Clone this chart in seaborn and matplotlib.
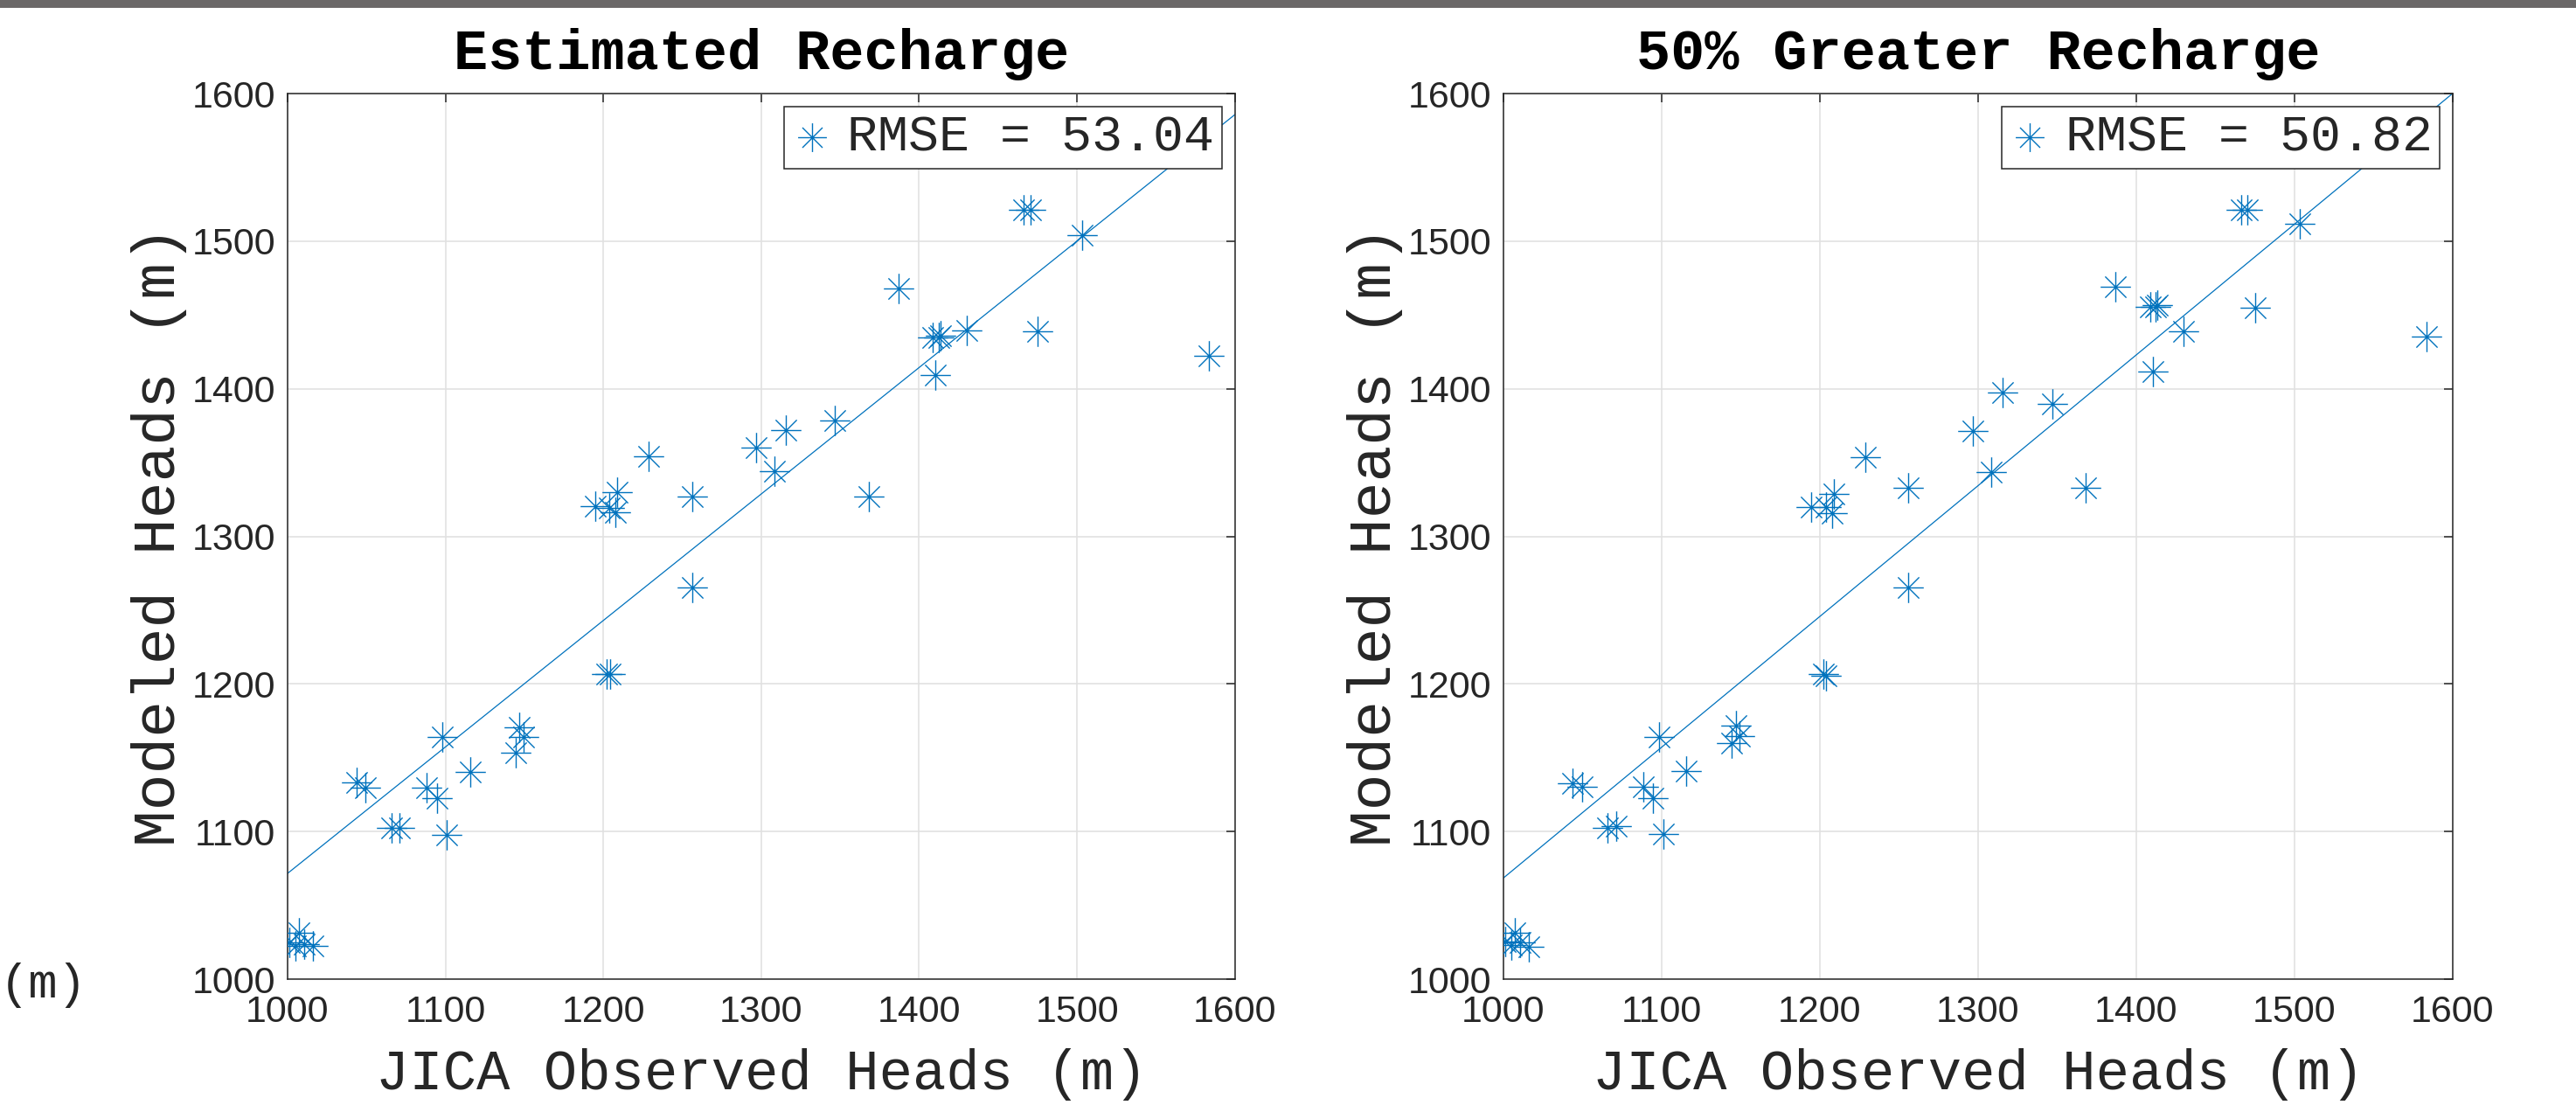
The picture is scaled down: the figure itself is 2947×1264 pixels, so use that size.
import matplotlib
matplotlib.use("Agg")
import matplotlib.pyplot as plt
from matplotlib.path import Path
from matplotlib.patches import Rectangle
import seaborn as sns
import numpy as np

# ── DATA
observed = [1583.5, 1466.2, 1470.5, 1503.5, 1386.8, 1408.8, 1412.2, 1413.6, 1430.0, 1475.0,
            1410.5, 1346.8, 1315.7, 1296.9, 1308.6, 1228.7, 1256.1, 1368.0, 1194.8, 1204.0,
            1208.7, 1207.7, 1256.1, 1202.2, 1204.2, 1098.3, 1146.8, 1149.3, 1144.4, 1115.8,
            1043.7, 1049.6, 1088.3, 1094.8, 1065.8, 1071.1, 1101.0, 1001.0, 1007.0, 1010.5,
            1015.9, 1005.0]
modeled_est = [1422.3, 1521.0, 1521.0, 1504.0, 1468.2, 1434.8, 1434.8, 1436.0, 1439.8, 1439.0,
               1409.5, 1378.4, 1371.8, 1360.1, 1344.2, 1354.3, 1326.7, 1326.7, 1320.5, 1319.4,
               1329.8, 1316.6, 1265.2, 1206.5, 1206.5, 1163.8, 1170.4, 1163.8, 1153.7, 1140.4,
               1133.0, 1129.9, 1129.6, 1122.5, 1102.3, 1102.7, 1097.7, 1024.9, 1031.5, 1023.7,
               1022.6, 1022.6]
modeled_50 = [1435.5, 1521.0, 1521.0, 1511.7, 1468.9, 1455.6, 1455.6, 1456.4, 1439.2, 1454.8,
              1411.7, 1389.6, 1397.3, 1371.3, 1343.3, 1353.4, 1332.8, 1332.8, 1320.0, 1320.0,
              1328.9, 1315.7, 1265.1, 1206.8, 1205.6, 1164.1, 1171.5, 1164.5, 1159.8, 1140.7,
              1132.9, 1130.2, 1130.2, 1122.8, 1102.3, 1103.5, 1098.4, 1025.6, 1031.4, 1024.8,
              1022.1, 1022.9]
titles = ["Estimated Recharge", "50% Greater Recharge"]
rmse = [53.04, 50.82]
fit_slope = [0.857, 0.886]
fit_at_1000 = [1071.6, 1068.5]
ticks = [1000, 1100, 1200, 1300, 1400, 1500, 1600]

BLUE = "#0072BD"
DARK = "#262626"
MONO = "Liberation Mono"
SANS = "Liberation Sans"

sns.set_theme(style="white")
plt.rcParams.update({"font.family": [SANS, "DejaVu Sans"], "axes.edgecolor": DARK,
                     "axes.linewidth": 1.1, "xtick.color": DARK, "ytick.color": DARK})

# MATLAB-style asterisk: plus + shorter cross
verts = [(-1, 0), (1, 0), (0, -1), (0, 1), (-.7, -.7), (.7, .7), (-.7, .7), (.7, -.7)]
codes = [Path.MOVETO, Path.LINETO] * 4
ASTERISK = Path(verts, codes)

fig = plt.figure(figsize=(29.47, 12.64), dpi=100)
axes = [fig.add_axes([0.1116, 0.1139, 0.3678, 0.8014]),
        fig.add_axes([0.5836, 0.1139, 0.3685, 0.8014])]

for ax, ttl, ys, r, m, b in zip(axes, titles, [modeled_est, modeled_50], rmse, fit_slope, fit_at_1000):
    ax.axline((1000, b), slope=m, color=BLUE, lw=0.9, zorder=2)
    sns.scatterplot(x=observed, y=ys, ax=ax, marker=ASTERISK, s=620, color=BLUE,
                    edgecolor=BLUE, linewidth=1.0, label=f"RMSE = {r:.2f}", zorder=3)
    ax.set_xlim(1000, 1600); ax.set_ylim(1000, 1600)
    ax.set_xticks(ticks); ax.set_yticks(ticks)
    ax.grid(True, color="#e1e1e1", lw=1.2)
    ax.tick_params(direction="in", length=7, width=1.1, top=True, right=True,
                   labelsize=31, labelcolor=DARK)
    ax.tick_params(axis="x", pad=13)
    ax.tick_params(axis="y", pad=10)
    for s in ax.spines.values():
        s.set_visible(True); s.set_color(DARK)
    ax.set_title(ttl, fontfamily=MONO, fontweight="bold", fontsize=47, pad=20, color="black")
    ax.set_xlabel("JICA Observed Heads (m)", fontfamily=MONO, fontsize=46, color=DARK)
    ax.set_ylabel("Modeled Heads (m)", fontfamily=MONO, fontsize=50, color=DARK)
    ax.xaxis.set_label_coords(0.5, -0.078)
    ax.yaxis.set_label_coords(-0.106, 0.5)
    leg = ax.legend(loc="upper right", prop={"family": MONO, "size": 42}, frameon=True,
                    fancybox=False, framealpha=1, edgecolor=DARK, borderaxespad=0.25,
                    handlelength=0.8, handletextpad=0.3, borderpad=0.15, markerscale=0.95)
    leg.get_frame().set_linewidth(1.1)

# cropped label at the left edge and the dark strip along the top
fig.text(0.0, 1 - 1127 / 1264, "(m)", fontfamily=MONO, fontsize=40, va="center", ha="left")
fig.add_artist(Rectangle((0, 1 - 9 / 1264), 1, 9 / 1264, transform=fig.transFigure,
                         color="#6b6868", lw=0))

fig.savefig("out.png", dpi=100)
